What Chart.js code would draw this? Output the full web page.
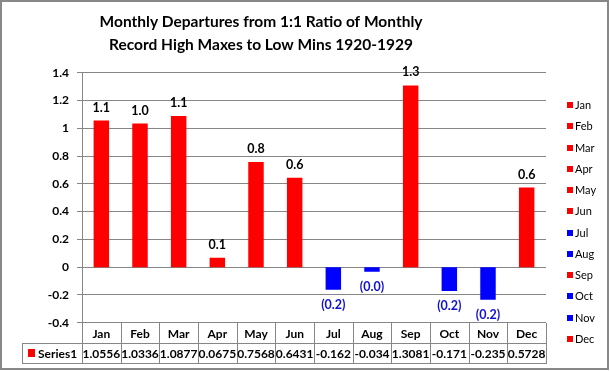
<!DOCTYPE html>
<html>
<head>
<meta charset="utf-8">
<script src="https://cdn.jsdelivr.net/npm/chart.js@4/dist/chart.umd.min.js"></script>
<style>
html,body{margin:0;padding:0;background:#fff;}
canvas{display:block;}
</style>
</head>
<body>
<canvas id="c" width="610" height="371"></canvas>
<script>
const TITLE_LINES = ["Monthly Departures from 1:1 Ratio of Monthly", "Record High Maxes to Low Mins 1920-1929"];
const MONTHS = ["Jan","Feb","Mar","Apr","May","Jun","Jul","Aug","Sep","Oct","Nov","Dec"];
const SERIES_NAME = "Series1";
const VALUES = [1.0556, 1.0336, 1.0877, 0.0675, 0.7568, 0.6431, -0.162, -0.034, 1.3081, -0.171, -0.235, 0.5728];
const TABLE_TEXT = ["1.0556","1.0336","1.0877","0.0675","0.7568","0.6431","-0.162","-0.034","1.3081","-0.171","-0.235","0.5728"];
const Y_MIN = -0.4, Y_MAX = 1.4, Y_STEP = 0.2;

const RED = "#FF0000", BLUE = "#0000FF", GRID = "#868686";
const FONT = "Lato, 'Open Sans', sans-serif";
const colors = VALUES.map(v => v >= 0 ? RED : BLUE);

function fmtLabel(v){
  return v < 0 ? "(" + Math.abs(v).toFixed(1) + ")" : v.toFixed(1);
}

const extras = {
  id: "extras",
  afterDraw(chart){
    const ctx = chart.ctx;
    const xs = chart.scales.x, ys = chart.scales.y;
    const area = chart.chartArea;
    const meta = chart.getDatasetMeta(0);
    ctx.save();
    // outer border
    ctx.strokeStyle = "#888888";
    ctx.lineWidth = 2;
    ctx.strokeRect(1, 1, 607, 368);

    // title
    ctx.fillStyle = "#000";
    ctx.font = "bold 15.5px " + FONT;
    ctx.textAlign = "center";
    ctx.textBaseline = "middle";
    ctx.fillText(TITLE_LINES[0], 261, 22);
    ctx.fillText(TITLE_LINES[1], 261, 45);

    // data labels
    ctx.font = "bold 12.5px " + FONT;
    meta.data.forEach((bar, i) => {
      const v = VALUES[i];
      if (v >= 0) {
        ctx.fillStyle = "#000";
        ctx.fillText(fmtLabel(v), bar.x, bar.y - 13);
      } else {
        ctx.fillStyle = "#1010D0";
        ctx.fillText(fmtLabel(v), bar.x, bar.y + 15);
      }
    });

    // data table
    const left = area.left, right = area.right;
    const w = (right - left) / MONTHS.length;
    const top = ys.getPixelForValue(Y_MIN);
    const rowH = 20.5;
    const r1 = top + rowH, r2 = r1 + 20;
    const tableLeft = 22;
    ctx.strokeStyle = GRID;
    ctx.lineWidth = 1;
    ctx.beginPath();
    ctx.moveTo(tableLeft, Math.round(r1) + 0.5); ctx.lineTo(right, Math.round(r1) + 0.5);
    ctx.moveTo(tableLeft, Math.round(r2) + 0.5); ctx.lineTo(right, Math.round(r2) + 0.5);
    for (let i = 0; i <= MONTHS.length; i++) {
      const x = Math.round(left + i * w) + 0.5;
      ctx.moveTo(x, Math.round(top)); ctx.lineTo(x, Math.round(r2) + 1);
    }
    ctx.moveTo(tableLeft + 0.5, Math.round(r1)); ctx.lineTo(tableLeft + 0.5, Math.round(r2) + 1);
    ctx.stroke();

    ctx.fillStyle = "#000";
    ctx.font = "bold 12px " + FONT;
    ctx.textAlign = "center";
    MONTHS.forEach((m, i) => {
      const cx = xs.getPixelForValue(i);
      ctx.fillText(m, cx, (top + r1) / 2 + 1);
      ctx.fillText(TABLE_TEXT[i], cx, (r1 + r2) / 2 + 1);
    });
    ctx.fillStyle = RED;
    ctx.fillRect(28, 349, 7, 8);
    ctx.fillStyle = "#000";
    ctx.textAlign = "left";
    ctx.fillText(SERIES_NAME, 38, (r1 + r2) / 2 + 1);

    // legend
    ctx.font = "11px " + FONT;
    ctx.textBaseline = "middle";
    MONTHS.forEach((m, i) => {
      const y = 105 + i * 21.27;
      ctx.fillStyle = colors[i];
      ctx.fillRect(567, Math.round(y) - 3, 6, 6);
      ctx.fillStyle = "#000";
      ctx.fillText(m, 575, y + 0.5);
    });
    ctx.restore();
  }
};

new Chart(document.getElementById("c"), {
  type: "bar",
  data: {
    labels: MONTHS,
    datasets: [{
      label: SERIES_NAME,
      data: VALUES,
      backgroundColor: colors,
      borderWidth: 0,
      categoryPercentage: 1.0,
      barPercentage: 0.4
    }]
  },
  options: {
    responsive: false,
    animation: false,
    devicePixelRatio: 1,
    layout: { padding: { left: 0, right: 64, top: 72.7, bottom: 48.3 } },
    plugins: {
      legend: { display: false },
      title: { display: false },
      tooltip: { enabled: false }
    },
    scales: {
      x: { display: false },
      y: {
        min: Y_MIN, max: Y_MAX,
        afterFit(scale){ scale.width = 82; },
        ticks: {
          stepSize: Y_STEP,
          padding: 8,
          color: "#000",
          font: { family: FONT, size: 12, weight: "bold" },
          callback: v => String(Math.round(v * 10) / 10)
        },
        grid: { color: GRID, tickColor: GRID, tickLength: 5, drawTicks: true, lineWidth: 1 },
        border: { display: true, color: GRID }
      }
    }
  },
  plugins: [extras]
});
</script>
</body>
</html>
